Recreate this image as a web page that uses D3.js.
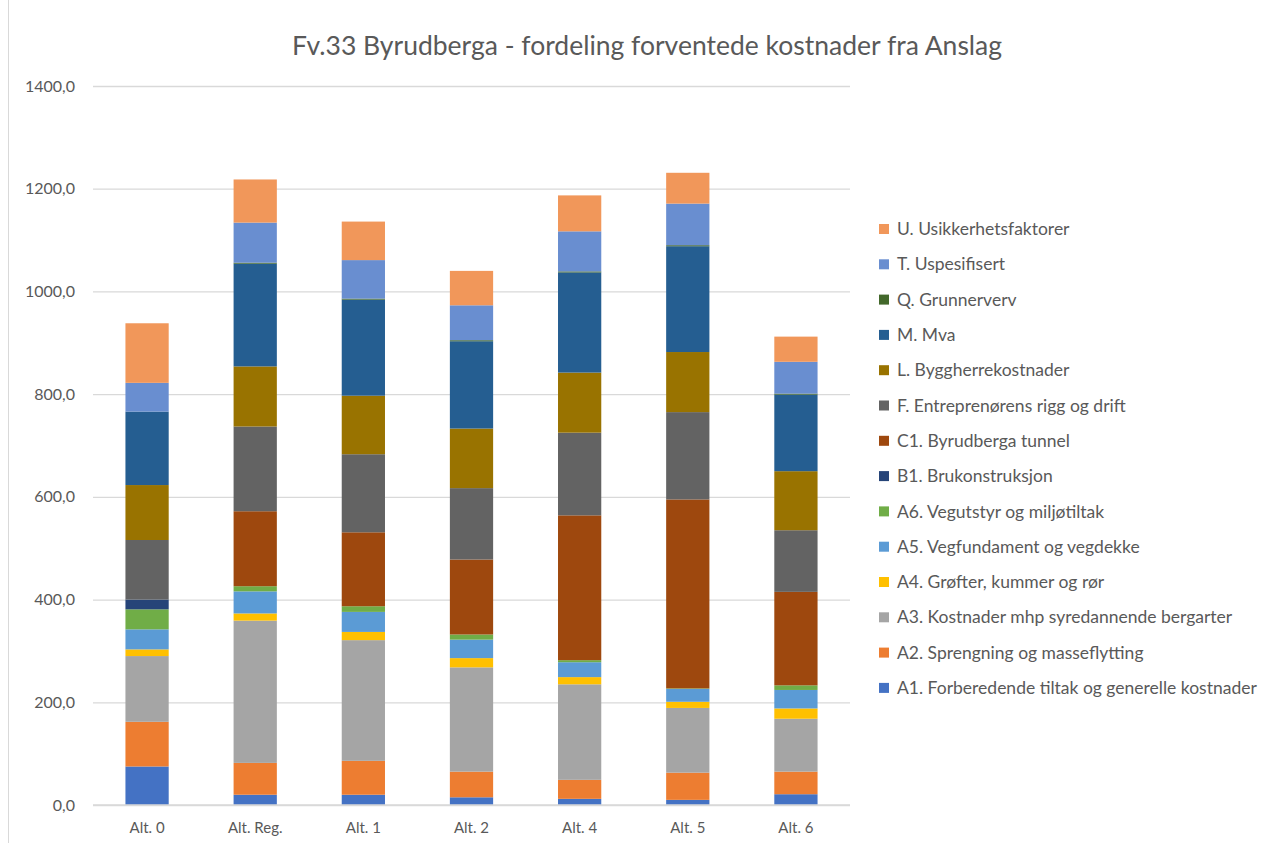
<!DOCTYPE html>
<html>
<head>
<meta charset="utf-8">
<script src="https://cdn.jsdelivr.net/npm/d3@7"></script>
<style>
  body { margin: 0; background: #fff; }
  text { font-family: Lato, "Open Sans", sans-serif; }
</style>
</head>
<body>
<svg id="chart" width="1277" height="843"></svg>
<script>
// categories along the x axis
var alternatives = ["Alt. 0", "Alt. Reg.", "Alt. 1", "Alt. 2", "Alt. 4", "Alt. 5", "Alt. 6"];

// series, bottom of the stack first
var seriesNames = [
  "A1. Forberedende tiltak og generelle kostnader",
  "A2. Sprengning og masseflytting",
  "A3. Kostnader mhp syredannende bergarter",
  "A4. Grøfter, kummer og rør",
  "A5. Vegfundament og vegdekke",
  "A6. Vegutstyr og miljøtiltak",
  "B1. Brukonstruksjon",
  "C1. Byrudberga tunnel",
  "F. Entreprenørens rigg og drift",
  "L. Byggherrekostnader",
  "M. Mva",
  "Q. Grunnerverv",
  "T. Uspesifisert",
  "U. Usikkerhetsfaktorer"
];
var seriesColors = ["#4472C4", "#ED7D31", "#A5A5A5", "#FFC000", "#5B9BD5", "#70AD47",
  "#264478", "#9E480E", "#636363", "#997300", "#255E91", "#43682B", "#698ED0", "#F1975A"];

// values per series, one per alternative
var A1 = [75, 20, 20, 15, 12, 10, 21];
var A2 = [87, 62, 66, 50, 37, 53, 44];
var A3 = [128, 277, 235, 203, 186, 126, 103];
var A4 = [13, 14, 16, 18, 14, 12, 20];
var A5 = [39, 43, 39, 36, 29, 25, 36];
var A6 = [39, 10, 11, 10, 4, 1, 9];
var B1 = [19, 0, 0, 0, 0, 0, 0];
var C1 = [0, 146, 144, 146, 282, 368, 182];
var F  = [116, 165, 152, 139, 161, 170, 120];
var L  = [107, 117, 114, 116, 117, 117, 115];
var M  = [143, 200, 187, 170, 195, 206, 149];
var Q  = [0, 2, 2, 2, 2, 2, 2];
var T  = [56, 78, 75, 68, 78, 81, 62];
var U  = [116, 84, 75, 67, 70, 60, 49];

var yTicks = [0, 200, 400, 600, 800, 1000, 1200, 1400];
var title = "Fv.33 Byrudberga - fordeling forventede kostnader fra Anslag";

var seriesValues = [A1, A2, A3, A4, A5, A6, B1, C1, F, L, M, Q, T, U];
var keys = seriesNames;
var table = alternatives.map(function(a, i){
  var row = {alt: a};
  keys.forEach(function(k, j){ row[k] = seriesValues[j][i]; });
  return row;
});

var svg = d3.select("#chart");
var margin = {left: 93, right: 427, top: 86, bottom: 38};
var width = 1277, height = 843;

// outer chart border on the left
svg.append("line").attr("x1", 8.5).attr("x2", 8.5).attr("y1", 0).attr("y2", height)
  .attr("stroke", "#d9d9d9").attr("stroke-width", 1);

var x = d3.scaleBand().domain(alternatives)
  .range([margin.left, width - margin.right]).paddingInner(0.6).paddingOuter(0.3);
var y = d3.scaleLinear().domain([0, 1400]).range([height - margin.bottom, margin.top]);

var fmt = function(v){ return d3.format(".1f")(v).replace(".", ","); };

// gridlines + y labels
var yAxis = svg.append("g")
  .attr("transform", "translate(" + margin.left + ",0)")
  .call(d3.axisLeft(y).tickValues(yTicks).tickFormat(fmt)
    .tickSize(-(width - margin.right - margin.left)).tickPadding(18));
yAxis.select(".domain").remove();
yAxis.selectAll(".tick line").attr("stroke", "#d9d9d9").attr("stroke-width", 1.3);
yAxis.selectAll(".tick text").attr("fill", "#595959").style("font-size", "16px");

// stacked bars
var stack = d3.stack().keys(keys)(table);
svg.append("g").selectAll("g")
  .data(stack)
  .enter().append("g")
  .attr("fill", function(d, i){ return seriesColors[i]; })
  .selectAll("rect")
  .data(function(d){ return d; })
  .enter().append("rect")
  .attr("x", function(d){ return x(d.data.alt); })
  .attr("width", x.bandwidth())
  .attr("y", function(d){ return y(d[1]); })
  .attr("height", function(d){ return Math.max(0, y(d[0]) - y(d[1])); });

// x axis
var xAxis = svg.append("g")
  .attr("transform", "translate(0," + y(0) + ")")
  .call(d3.axisBottom(x).tickSize(0).tickPadding(17));
xAxis.select(".domain").attr("stroke", "#d9d9d9").attr("stroke-width", 1.3)
  .attr("d", "M" + margin.left + ",0H" + (width - margin.right));
xAxis.selectAll(".tick text").attr("fill", "#595959").style("font-size", "15px");

// title
svg.append("text")
  .attr("x", 647).attr("y", 55)
  .attr("text-anchor", "middle")
  .attr("fill", "#595959")
  .style("font-size", "26.5px")
  .text(title);

// legend, top entry is the last series
var legend = svg.append("g").selectAll("g")
  .data(keys.slice().reverse())
  .enter().append("g")
  .attr("transform", function(d, i){ return "translate(879," + (229 + i * 35.3) + ")"; });
legend.append("rect")
  .attr("x", 0).attr("y", -5).attr("width", 10).attr("height", 10)
  .attr("fill", function(d){ return seriesColors[keys.indexOf(d)]; });
legend.append("text")
  .attr("x", 18).attr("y", 0).attr("dy", "0.35em")
  .attr("fill", "#595959")
  .style("font-size", "17.5px")
  .text(function(d){ return d; });
</script>
</body>
</html>
